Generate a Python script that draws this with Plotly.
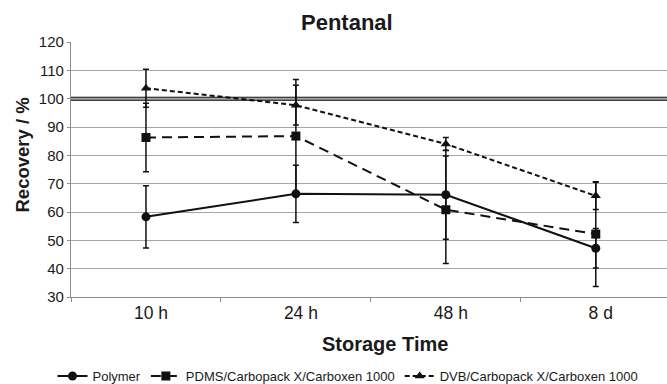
import plotly.graph_objects as go

categories = ["10 h", "24 h", "48 h", "8 d"]
polymer = [58.3, 66.4, 66.1, 47.2]
polymer_err = [11.0, 10.1, 15.7, 7.0]
pdms = [86.3, 86.8, 60.8, 52.2]
pdms_err = [12.1, 20.0, 19.0, 18.5]
dvb = [103.7, 97.7, 84.0, 65.7]
dvb_err = [6.7, 7.0, 2.3, 4.8]
y_ticks = [30, 40, 50, 60, 70, 80, 90, 100, 110, 120]

FONT = "Arial, Liberation Sans, sans-serif"
INK = "#1a1a1a"

W, H = 667, 384
ML, MR, MT, MB = 71, 0, 42, 87

fig = go.Figure()

def add(name, y, err, dash, symbol, msize):
    fig.add_trace(go.Scatter(
        x=categories, y=y, name=name, mode="lines+markers",
        line=dict(color="#111111", width=2, dash=dash),
        marker=dict(symbol=symbol, size=msize, color="#111111"),
        error_y=dict(type="data", array=err, visible=True,
                     color="#111111", thickness=1.5, width=3),
    ))

add("Polymer", polymer, polymer_err, "solid", "circle", 9)
add("PDMS/Carbopack X/Carboxen 1000", pdms, pdms_err, "10px,6px", "square", 9)
add("DVB/Carbopack X/Carboxen 1000", dvb, dvb_err, "5px,3px", "triangle-up", 9)

# double reference line at 100 %
for yy in (99.5, 100.5):
    fig.add_shape(type="line", xref="paper", yref="y", x0=0, x1=1, y0=yy, y1=yy,
                  line=dict(color="#000000", width=1.2), layer="above")

plot_w = W - ML - MR
plot_h = H - MT - MB

def px_x(px):
    return (px - ML) / plot_w

def px_y(py):
    return (H - MB - py) / plot_h

fig.add_annotation(text="<b>Pentanal</b>", xref="paper", yref="paper",
                   x=px_x(346.5), y=px_y(22), showarrow=False,
                   xanchor="center", yanchor="middle",
                   font=dict(family=FONT, size=22, color=INK))
fig.add_annotation(text="<b>Storage Time</b>", xref="paper", yref="paper",
                   x=px_x(385), y=px_y(344), showarrow=False,
                   xanchor="center", yanchor="middle",
                   font=dict(family=FONT, size=20, color=INK))
fig.add_annotation(text="<b>Recovery / %</b>", xref="paper", yref="paper",
                   x=px_x(22), y=px_y(154.5), showarrow=False, textangle=-90,
                   xanchor="center", yanchor="middle",
                   font=dict(family=FONT, size=18.5, color=INK))

fig.update_layout(
    width=W, height=H,
    margin=dict(l=ML, r=MR, t=MT, b=MB),
    paper_bgcolor="white", plot_bgcolor="white",
    font=dict(family=FONT, color=INK),
    showlegend=True,
    legend=dict(orientation="h", xref="container", yref="container",
                x=348 / W, xanchor="center", y=1 - 376 / H, yanchor="middle",
                font=dict(family=FONT, size=13, color=INK),
                bgcolor="rgba(0,0,0,0)", itemwidth=30),
    xaxis=dict(type="category", range=[-0.5, 3.475],
               showline=True, linecolor="#8c8c8c", linewidth=1.3,
               ticks="outside", tickson="boundaries", ticklen=4,
               tickcolor="#8c8c8c", showgrid=False,
               tickfont=dict(family=FONT, size=17.5, color=INK),
               ticklabelshift=5, fixedrange=True),
    yaxis=dict(range=[30, 120], tickvals=y_ticks,
               showline=True, linecolor="#8c8c8c", linewidth=1.3,
               ticks="outside", ticklen=3, tickcolor="#8c8c8c",
               showgrid=True, gridcolor="#a6a6a6", gridwidth=1.3,
               zeroline=False,
               tickfont=dict(family=FONT, size=15, color=INK)),
)

fig.write_html("out.html")
